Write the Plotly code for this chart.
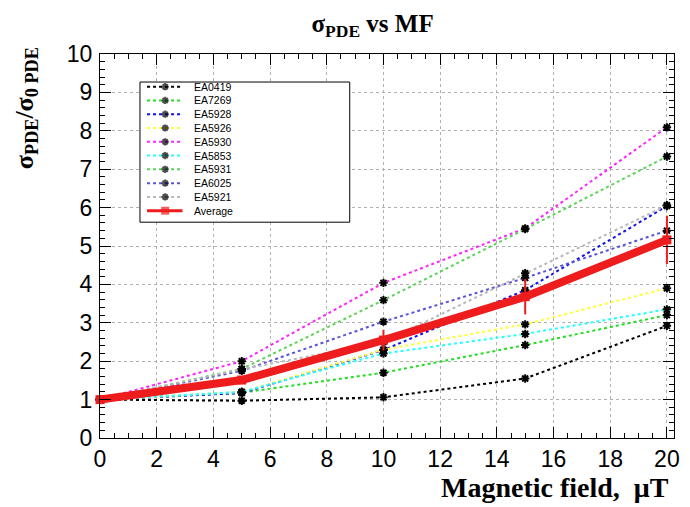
import plotly.graph_objects as go

# Magnetic field values (uT)
field = [0, 5, 10, 15, 20]

# Relative sigma_PDE for each sensor
ea0419 = [1.0, 0.97, 1.06, 1.55, 2.92]
ea7269 = [1.0, 1.18, 1.70, 2.42, 3.20]
ea5928 = [1.0, 1.17, 2.29, 3.85, 6.04]
ea5926 = [1.0, 1.20, 2.30, 2.96, 3.90]
ea5930 = [1.0, 2.00, 4.04, 5.46, 8.09]
ea5853 = [1.0, 1.20, 2.20, 2.71, 3.35]
ea5931 = [1.0, 1.80, 3.59, 5.44, 7.33]
ea6025 = [1.0, 1.75, 3.03, 4.17, 5.40]
ea5921 = [1.0, 1.79, 2.50, 4.29, 6.06]

average = [1.0, 1.51, 2.55, 3.68, 5.16]
average_err = [0.0, 0.10, 0.27, 0.46, 0.63]

names = ["EA0419", "EA7269", "EA5928", "EA5926", "EA5930",
         "EA5853", "EA5931", "EA6025", "EA5921"]
series = [ea0419, ea7269, ea5928, ea5926, ea5930,
          ea5853, ea5931, ea6025, ea5921]
colors = ["#000000", "#22dd22", "#1010ee", "#ffff33", "#ff22ff",
          "#22ffff", "#59d454", "#5954d8", "#b8b8b8"]
avg_color = "#ee1c1c"

X_RANGE = [0, 20.25]
Y_RANGE = [0, 10]

fig = go.Figure()

for name, ys, col in zip(names, series, colors):
    fig.add_trace(go.Scatter(
        x=field, y=ys, name=name, mode="lines+markers",
        line=dict(color=col, width=2, dash="dot"),
        marker=dict(symbol="asterisk-open", size=7, color="black",
                    line=dict(color="black", width=2)),
        showlegend=False, cliponaxis=False,
    ))

fig.add_trace(go.Scatter(
    x=field, y=average, name="Average", mode="lines+markers",
    line=dict(color=avg_color, width=8),
    marker=dict(symbol="square", size=9, color=avg_color),
    error_y=dict(type="data", array=average_err, visible=True,
                 color=avg_color, thickness=2, width=0),
    showlegend=False, cliponaxis=False,
))

# ---- legend box drawn inside the frame (axis units) ----
box_x0, box_x1 = 1.41, 8.81
box_y0, box_y1 = 5.62, 9.27
fig.add_shape(type="rect", xref="x", yref="y", layer="between",
              x0=box_x0, x1=box_x1, y0=box_y0, y1=box_y1,
              fillcolor="white", line=dict(color="black", width=1))

entry_top = 9.15
entry_step = 0.359
sample_x0, sample_x1, sample_mid = 1.66, 2.91, 2.30
text_x = 3.26

legend_entries = list(zip(names, colors)) + [("Average", avg_color)]
for i, (name, col) in enumerate(legend_entries):
    yy = entry_top - i * entry_step
    is_avg = name == "Average"
    fig.add_trace(go.Scatter(
        x=[sample_x0, sample_mid, sample_x1], y=[yy, yy, yy],
        mode="lines+markers", showlegend=False, hoverinfo="skip",
        line=dict(color=col, width=3 if is_avg else 2,
                  dash="solid" if is_avg else "dot"),
        marker=dict(symbol="square" if is_avg else "asterisk-open",
                    size=[0, 8 if is_avg else 6, 0],
                    color=avg_color if is_avg else "black",
                    line=dict(color=avg_color if is_avg else "black",
                              width=0 if is_avg else 2)),
    ))
    fig.add_annotation(x=text_x, y=yy, xref="x", yref="y", text=name,
                       showarrow=False, xanchor="left", yanchor="middle",
                       font=dict(family="Liberation Sans", size=10.5,
                                 color="black"))

# ---- titles ----
fig.add_annotation(
    text="<b>\u03c3<sub>PDE</sub>/\u03c3<sub>0 PDE</sub></b>",
    xref="paper", yref="paper", x=-0.13, y=0.86, textangle=-90,
    showarrow=False, xanchor="center", yanchor="middle",
    font=dict(family="Liberation Serif", size=26, color="black"))

fig.add_annotation(
    text="<b>Magnetic field,  \u03bcT</b>",
    xref="paper", yref="paper", x=0.995, y=-0.13,
    showarrow=False, xanchor="right", yanchor="middle",
    font=dict(family="Liberation Serif", size=28, color="black"))

axis_common = dict(
    showline=True, linecolor="black", linewidth=1, mirror="ticks",
    ticks="inside", tickcolor="black", ticklen=11, tickwidth=1,
    showgrid=True, gridcolor="#b0b0b0", griddash="dot", gridwidth=1,
    zeroline=False,
    tickfont=dict(family="Liberation Sans", size=23, color="black"),
)

fig.update_xaxes(
    range=X_RANGE, tickmode="linear", tick0=0, dtick=2,
    minor=dict(dtick=0.5, ticks="inside", ticklen=5, tickcolor="black",
               showgrid=False),
    ticklabelstandoff=0,
    **axis_common)
fig.update_yaxes(
    range=Y_RANGE, tickmode="linear", tick0=0, dtick=1,
    minor=dict(dtick=0.2, ticks="inside", ticklen=5, tickcolor="black",
               showgrid=False),
    ticklabelstandoff=2,
    **axis_common)

fig.update_layout(
    width=690, height=507,
    margin=dict(l=100, r=10, t=54, b=69),
    paper_bgcolor="white", plot_bgcolor="white",
    title=dict(text="<b>\u03c3<sub>PDE</sub> vs MF</b>",
               x=0.54, xanchor="center", y=0.955, yanchor="middle",
               font=dict(family="Liberation Serif", size=25, color="black")),
    showlegend=False,
)

fig.write_html("out.html")
